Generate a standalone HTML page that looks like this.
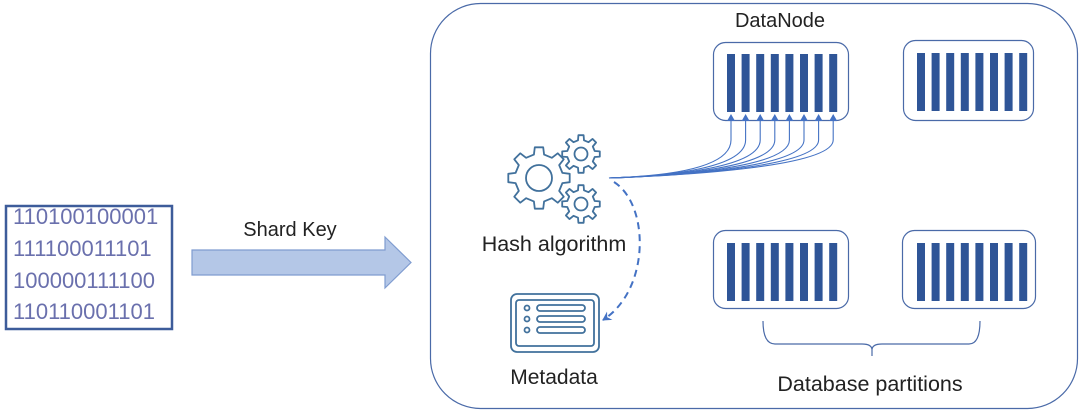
<!DOCTYPE html>
<html><head><meta charset="utf-8"><style>
body{margin:0;background:#fff;}
svg{display:block;font-family:"Liberation Sans","Noto Sans CJK SC",sans-serif;}
</style></head><body>
<svg id="s" width="1080" height="412" viewBox="0 0 1080 412" xmlns="http://www.w3.org/2000/svg">
<defs>
<marker id="ah" markerWidth="8" markerHeight="8" refX="6" refY="4" orient="auto" markerUnits="userSpaceOnUse"><path d="M0,0 L7,4 L0,8 z" fill="#4472c4"/></marker>
<marker id="ah2" markerWidth="10" markerHeight="10" refX="8" refY="5" orient="auto" markerUnits="userSpaceOnUse"><path d="M0,0 L9,5 L0,10 L3,5 z" fill="#4472c4"/></marker>
</defs>
<rect x="430.5" y="3.5" width="647" height="405" rx="50" fill="none" stroke="#4a6aa8" stroke-width="1.2"/>
<rect x="6" y="206" width="166" height="123" fill="none" stroke="#3d5c9a" stroke-width="2.5"/>
<g fill="#6a70ad" font-size="22">
<text x="13" y="224">110100100001</text>
<text x="13" y="256">111100011101</text>
<text x="13" y="288">100000111100</text>
<text x="13" y="319">110110001101</text>
</g>
<text x="290" y="236" font-size="20" fill="#222" text-anchor="middle">Shard Key</text>
<path d="M192,250 L385,250 L385,237 L411,262.5 L385,288 L385,275 L192,275 z" fill="#b4c7e7" stroke="#7f9cd0" stroke-width="1.2"/>
<text x="780" y="27" font-size="20" fill="#222" text-anchor="middle">DataNode</text>
<g fill="none" stroke="#4a6aa8" stroke-width="1.2">
<rect x="713.5" y="42.5" width="135" height="78" rx="12"/>
<rect x="903.5" y="40.5" width="130" height="80" rx="12"/>
<rect x="713.5" y="230.5" width="135" height="78" rx="12"/>
<rect x="902.5" y="230.5" width="133" height="78" rx="12"/>
</g>
<g id="bars" fill="#2f5597"></g>
<g id="fan" fill="none" stroke="#4472c4" stroke-width="1.1"></g>
<g id="gears" fill="none" stroke="#41719c" stroke-width="1.8"></g>
<text x="554" y="251" font-size="21.5" fill="#222" text-anchor="middle">Hash algorithm</text>
<path d="M614,182 C650,205 650,290 603,320" fill="none" stroke="#4472c4" stroke-width="2" stroke-dasharray="7,5" marker-end="url(#ah2)"/>
<g fill="none" stroke="#41719c" stroke-width="1.8">
<rect x="511" y="294" width="88" height="58" rx="6"/>
<rect x="516" y="300" width="78" height="46" rx="3"/>
<circle cx="527" cy="308" r="2.5"/><circle cx="527" cy="319" r="2.5"/><circle cx="527" cy="330" r="2.5"/>
<rect x="537" y="305" width="48" height="6" rx="3"/>
<rect x="537" y="316" width="48" height="6" rx="3"/>
<rect x="537" y="327" width="48" height="6" rx="3"/>
</g>
<text x="554" y="384" font-size="21" fill="#222" text-anchor="middle">Metadata</text>
<path d="M763,321 Q763,344 775,344 L862,344 Q872,344 872,350 L872,356 M872,350 Q872,344 882,344 L969,344 Q980,344 980,321" fill="none" stroke="#4a6aa8" stroke-width="1.2"/>
<text x="870" y="391" font-size="21.5" fill="#222" text-anchor="middle">Database partitions</text>
</svg>
<script>
var NS="http://www.w3.org/2000/svg";
function el(g,t,a){var e=document.createElementNS(NS,t);for(var k in a)e.setAttribute(k,a[k]);document.getElementById(g).appendChild(e);return e;}
var boxes=[[727,54],[917,53],[727,243],[917,243]];
boxes.forEach(function(b){for(var i=0;i<8;i++){el("bars","rect",{x:b[0]+i*14.6,y:b[1],width:8,height:58});}});
var ox=609,oy=178;
for(var i=0;i<8;i++){var x=731+i*14.6;
el("fan","path",{d:"M"+ox+","+oy+" C"+(ox+60)+","+(oy-2)+" "+x+","+(oy-10)+" "+x+",140 L"+x+",115","marker-end":"url(#ah)"});}
function gear(cx,cy,ro,ri,n,rh){var d="";for(var i=0;i<n;i++){var a=i*2*Math.PI/n,w=Math.PI/n;
var pts=[[ri,a-w*0.55],[ro,a-w*0.35],[ro,a+w*0.35],[ri,a+w*0.55],[ri,a+w*1.45]];
pts.forEach(function(p,j){var X=cx+p[0]*Math.cos(p[1]),Y=cy+p[0]*Math.sin(p[1]);d+=(i==0&&j==0?"M":"L")+X.toFixed(1)+","+Y.toFixed(1);});}
el("gears","path",{d:d+"z","stroke-linejoin":"round"});el("gears","circle",{cx:cx,cy:cy,r:rh});}
gear(539,178,31,24,8,13);gear(581,154,19,14,8,6.5);gear(581,204,19,14,8,6.5);
</script>
</body></html>
